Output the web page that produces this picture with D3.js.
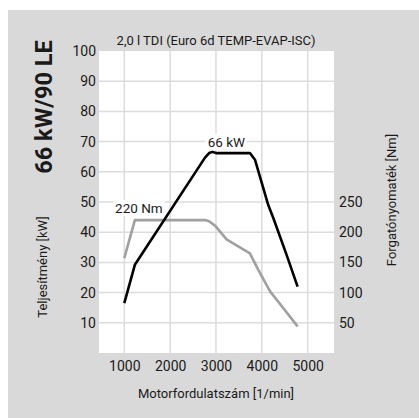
<!DOCTYPE html>
<html>
<head>
<meta charset="utf-8">
<script src="https://cdn.jsdelivr.net/npm/d3@7"></script>
<style>
  body { margin: 0; background: #fff; }
  text { font-family: Roboto, "Noto Sans", sans-serif; fill: #1a1a1a; }
</style>
</head>
<body>
<script>
// canvas
var w = 419;
var h = 418;

// plot area
var pL = 99, pR = 334, pT = 51, pB = 353;

// data
var rpmPower = [1000, 1230, 2760, 2850, 2920, 3000, 3740, 3850, 4140, 4250, 4540, 4780];
var power    = [16.5, 29.2, 64.7, 66.2, 66.6, 66.2, 66.2, 64.0, 49.0, 44.7, 32.5, 22.0];
var rpmTorque = [1000, 1230, 2760, 2850, 2990, 3230, 3740, 3920, 4180, 4470, 4780];
var torque    = [157, 220, 220, 218, 210, 188, 165, 138, 102, 74, 44];

var xTicks = [1000, 2000, 3000, 4000, 5000];
var kwTicks = [10, 20, 30, 40, 50, 60, 70, 80, 90, 100];
var nmTicks = [50, 100, 150, 200, 250];

var title = "2,0 l TDI (Euro 6d TEMP-EVAP-ISC)";
var bigTitle = "66 kW/90 LE";

// scales
var scaleX = d3.scaleLinear().domain([448, 5574]).range([pL, pR]);
var scaleKW = d3.scaleLinear().domain([0, 100]).range([pB, pT]);
var scaleNm = d3.scaleLinear().domain([0, 500]).range([pB, pT]);

var svg = d3.select("body").append("svg")
            .attr("width", w)
            .attr("height", h);

// gray card + white plot
svg.append("rect").attr("x", 8).attr("y", 10)
   .attr("width", w - 8).attr("height", h - 10)
   .attr("fill", "#d9d9d9");
svg.append("rect").attr("x", pL).attr("y", pT)
   .attr("width", pR - pL).attr("height", pB - pT)
   .attr("fill", "#ffffff");

// grid
svg.append("g").selectAll("line")
   .data(xTicks).enter().append("line")
   .attr("x1", function(d) { return scaleX(d); })
   .attr("x2", function(d) { return scaleX(d); })
   .attr("y1", pT).attr("y2", pB)
   .attr("stroke", "#dcdcdc").attr("stroke-width", 1.5);
svg.append("g").selectAll("line")
   .data(kwTicks.slice(0, -1)).enter().append("line")
   .attr("x1", pL).attr("x2", pR)
   .attr("y1", function(d) { return scaleKW(d); })
   .attr("y2", function(d) { return scaleKW(d); })
   .attr("stroke", "#dcdcdc").attr("stroke-width", 1.5);

// axes (labels only)
var axisL = d3.axisLeft(scaleKW).tickValues(kwTicks).tickSize(0).tickPadding(3);
var axisR = d3.axisRight(scaleNm).tickValues(nmTicks).tickSize(0).tickPadding(5);
var axisB = d3.axisBottom(scaleX).tickValues(xTicks).tickSize(0).tickPadding(8)
              .tickFormat(d3.format("d"));

function styleAxis(g) {
    g.select(".domain").remove();
    g.selectAll("text")
     .style("font-family", "Roboto")
     .style("font-size", "14px")
     .attr("fill", "#1a1a1a");
}
svg.append("g").attr("transform", "translate(" + pL + ",0)").call(axisL).call(styleAxis);
svg.append("g").attr("transform", "translate(" + pR + ",0)").call(axisR).call(styleAxis);
svg.append("g").attr("transform", "translate(0," + pB + ")").call(axisB).call(styleAxis);

// curves
var linePower = d3.line()
    .x(function(d, i) { return scaleX(rpmPower[i]); })
    .y(function(d) { return scaleKW(d); });
var lineTorque = d3.line()
    .x(function(d, i) { return scaleX(rpmTorque[i]); })
    .y(function(d) { return scaleNm(d); });

svg.append("path").datum(torque)
   .attr("d", lineTorque)
   .attr("fill", "none").attr("stroke", "#a0a0a0")
   .attr("stroke-width", 2.6).attr("stroke-linejoin", "round");
svg.append("path").datum(power)
   .attr("d", linePower)
   .attr("fill", "none").attr("stroke", "#000")
   .attr("stroke-width", 2.6).attr("stroke-linejoin", "round");

// peak labels with white knockout
function peakLabel(txt, x, y) {
    var g = svg.append("g");
    var t = g.append("text").text(txt)
             .attr("x", x).attr("y", y)
             .attr("text-anchor", "middle")
             .style("font-size", "13.5px");
    var bb = t.node().getBBox();
    g.insert("rect", "text")
     .attr("x", bb.x - 2).attr("y", bb.y)
     .attr("width", bb.width + 4).attr("height", bb.height)
     .attr("fill", "#fff");
}
peakLabel("66 kW", scaleX(2920) + 14, scaleKW(66.6) - 5);
peakLabel("220 Nm", scaleX(1230) + 4, scaleNm(220) - 7);

// titles
svg.append("text").text(title)
   .attr("x", 216).attr("y", 45)
   .attr("text-anchor", "middle")
   .style("font-size", "13px");

svg.append("text").text(bigTitle)
   .attr("transform", "translate(52,107) rotate(-90)")
   .attr("text-anchor", "middle")
   .style("font-size", "23.5px")
   .style("font-weight", "bold")
   .attr("fill", "#000");

svg.append("text").text("Teljesítmény [kW]")
   .attr("transform", "translate(47,267) rotate(-90)")
   .attr("text-anchor", "middle")
   .style("font-size", "13px");

svg.append("text").text("Forgatónyomaték [Nm]")
   .attr("transform", "translate(396,200) rotate(-90)")
   .attr("text-anchor", "middle")
   .style("font-size", "13px");

svg.append("text").text("Motorfordulatszám [1/min]")
   .attr("x", 216).attr("y", 398)
   .attr("text-anchor", "middle")
   .style("font-size", "13px");
</script>
</body>
</html>
